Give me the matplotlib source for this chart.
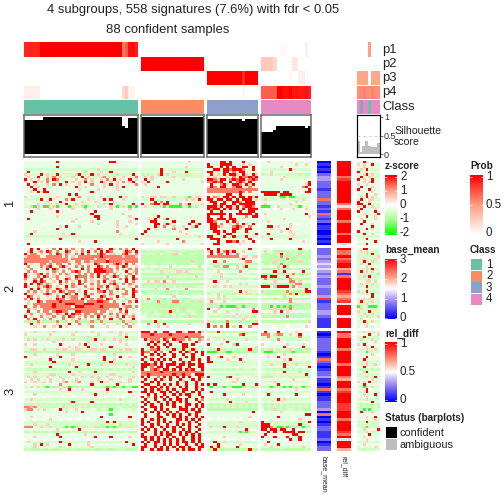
import matplotlib
matplotlib.use('Agg')
import matplotlib.pyplot as plt
import numpy as np
from matplotlib.colors import LinearSegmentedColormap, ListedColormap

plt.rcParams['font.family'] = ['Liberation Sans', 'DejaVu Sans']

W = 504.0
fig = plt.figure(figsize=(7, 7), dpi=72)

# values
col_sizes = [36, 20, 16, 16]
col_x = [(24, 138), (141, 204), (207, 258), (261, 311)]
side_x = (357, 380)
row_y = [(161, 245), (248, 328), (331, 451)]

p1 = [.88]*5 + [1]*26 + [.6, .7, .95, .95, .9] + [0]*20 + [0]*16 + [0, 0, 0, 0, 0, 0, .03, .03, 0, 0, 0, 0, 0, 0, .08, 0]
p2 = [0]*36 + [1]*20 + [0]*16 + [.27, .27, .27, .27, .2, 0, 0, 0, 0, 0, .12, .12, 0, 0, 0, 0]
p3 = [0]*36 + [0]*20 + [1]*11 + [.85] + [1]*4 + [0, 0, 0, 0, 0, 0, 0, 0, 0, .03, 0, 0, .08, .08, .02, .03]
p4 = [.08]*5 + [0]*26 + [.2, .27, .06, .06, 0] + [0]*20 + [0]*11 + [.05] + [0]*4 + [.7, .7, .7, .7, .7, 1, 1, .95, .95, 1, .92, .95, .92, .92, .95, .9]
side_p1 = [0, 0, 0, 0, .5, 0, 0, 0]
side_p2 = [0, 0, 0, 0, 0, 0, 0, 0]
side_p3 = [.45, .45, .45, .45, 0, .45, .45, .45]
side_p4 = [.55, .55, .58, .55, .55, .58, .55, .55]
side_class = [4, 3, 4, 4, 1, 4, 4, 4]

sil_1 = [.92]*6 + [.99]*25 + [.76, .70, .96, .96, .97]
sil_2 = [.99]*20
sil_3 = [.95]*11 + [.90] + [.95]*4
sil_4 = [.59]*4 + [.65] + [.76]*9 + [.70, .76]
sil_side = [.35, .05, .22, .35, .22, .2, .18, .3]

heat_1 = [
"..........R................RR....... ...............p.... ....RR.R...R.... ..p.............R. ..R.....",
"..................................... .................... R...RRRR...p.p.. ...........p..p... p.p..R..",
"..........R......................... ..............p..... RR..R.R.R..RR.R. ......p......... ..p.....",
"-----------------------p------------ ------R------------- ..RR.RRsRRRs..R. ---------R------ -p-R----",
".R.................p....p..R........ ......R...p...R..... RR.p.RR.s.RR.... ...p............ R..p....",
"p----R-p--R-----pR---R-p-----p----R- =-=--pR-p-----==---- -R-p-R-RRp-Rp-Rp =--p----=---=-== --pR-p--",
"-p..R-.p-s-p---p-.R.p---ps--p-.p.-.s -p-p------p--------- p-p--.p-s-RssRsR .......p-------- -R-.p---",
"R.p.p.-s.Rs.-...p..s.p..p.s.R.p..R.p .R.p.........p...... RRspRR.sRsRRpsRs ......p......... R.p..R..",
"p..R.p.s..p..R.p.p.R.p..Rp.p.p.s.pR. p.R.....R.......... ssRsR..R.sRs.R.. ...............R ..p.pR..",
".R.p...p.s.R.p...p...s...p.R.p.....s .p................. .R..sRp.RRs.RpR. ..............pR p..p....",
"..R.p...........R..p.....p...p.R.... .....R............. pRs.RR..sRR..s.. .............sR. .R...p..",
"...R..R..........p.....p.....p...... .................... ssssssssssssssss ...............R R...R...",
"..p.R.RR.............R.............. .................... ssssssssssRs.s.. RRRRRR.RR.....RR .....p..",
"..............R.R................... .................... ......RR..R..... .RRRR.RRRR...... ...R..p.",
"p.-..-..-.p-..-.ps..--..p.-...R.p.-. p.-pp.pp--p----G-pp- R.sp.RRpR.RR.Rp ----.-GG.GG----. .p.R-p-.",
"-----R..R-...s-R-...p-...R.R...p-.-- ---R----------p-p-R- RR.RR.RR.R.RRR.p -p---.--.----p-. -R-.pp--",
".......p...R......p...p.....p....... ....R.s.R........... .RR..R..RRs.RRR. ...........p.... R...p...",
"-...p.-.p.p-.R..p.---...-p.R.---..R- R--sRR-RR---s.pR--.p ..R.RR..R.RRRRR. .p.......p...... RR..R-.-",
"--pGp-sG-pG-..G---pG--.p--.p-G-p-G.G -p----pG-GGGG--G-p-- RRRpR.RRpR.sRRs. GGG-.p--.-.-G.-. p-R.-p--",
"..o.p.o.p.oo...p.o.p...o.o.p..o.op.. ......o...o.o....... RsRR.RpRpR.R.RRR ....o.poo.p..op. .R.o..po",
"..R.......R...........R............. .................... .R..R.....R..RR. ................ R.....R.",
".....................R.........p.... .................... RRRRRR.R.RRRRR.R .p............R. ..p....R",
"..........p...........RR.........p.. .....R.............. R...R..R....s.RR ...............p ...R..p.",
".R..............p......R...........R ..p.R..pR........... RR.RRR.RR..p.... .......p........ .p....p.",
"...............p.....p.......p...p.. ...RR.....R.....R... RRs...R.Rp...... ..p............. ..R.....",
"...o..o.....o..o...o...p.o...p..o..p ..o.RR.pRp.o..oR.pR. .RR.s..p.s.Rp.R. ..o..o...p.o..o. oR.o.po.",
"...........p.R...p...........p..p... ....Rp.s..p..p..pR.. .RRsp...sRsp.s.. ..RR.p...p...... .....R..",
"..........R......................... ..R.p.....s...R..... .RR.....RRp.RR.. ...p....R....... ...R.p..",
"...p.........................s...... .R..........p....... ..RR.R..R...R... ......p..p...... R.......",
"..R.........p..R..............p..... R.............p..... ...R..RR.......R ..R.......p..... ..R..p..",
"------------------------------------ ------------------p- RR---R--R---R--- ---------------- --------",
"-..........R.......................R ...........R........ .RRR.........R.. ...R.....R...... ...R....",
".................p....R.............. .....p.......s...... ...R..RRsR.p..R. .............p.. ......R.",
".R.................................. p.......p.......... ..RR......p..... ................ ...R....",
]
heat_2 = [
"..R.R..p.s.R.s.s..s..p.Rs..Rp.s.s.R. .................... R..R.........R.. ............R... ..RR....",
".pR.ps.Rs.s..Rs.p.s.R.s.R.Rs...pRs.R ==-=-===-=-=-======= pR.R.sRpR..p.... -p-.=p=-=-=-==-= -p-p----",
"R.ss.p..s.Rs.sp.s.R.s..sRs.pp..sRp.s --=-==.=-=pp-===-==- .R.ss.Rp.s..... -==-=-R-==-=p-== ---p-R--",
"pssss..sssss.s.p.sssssssRsssssspsssp ==================== ssssssssss.pp.pp ======s=p======= -------p",
"ssssssssssssss.sssssss.ssspsssssssss ==================== ..........pR.... -=======s===-=== --p---p-",
"sssssssspsssssp.ss.sspssssRsssspssss ==-=====-=======p=== ..R..s......ss.. ====p===-===p==- --R--p--",
"R.p..ss.s.ss..s.ps..p.Rs...psRs.R.s. -==-==-=-=-=====-=== .=-==-====-=p=== -==-==s===-=-=== -p--R---",
".s...s.sR..sRp..s.s.s..Rs.s..s.Rs..p o.-.o-..op.-o..o..p. ..pp.ss..p.pR.. ...o.p.Rp...o..o -o.p-.o.",
"p.s..p.R.Rs.p.s...R.s.RRRsss.s.p.s.s =-=-==-=-==-======== ==.=-===-=---== =====p====-===== ---p-R--",
".s.s...p.sp.s..sRs..s.RRRRss.p..R.ps --.---p----pp-p----- ...p......s..... ....R..R.....R.. -R-p-p--",
"R..psR.s.p.s.sp..s.s.s.Rp.s.s.p..s.s ====-===-====-====== -.-=p--==-.---= ==========s===== -------p",
"Rp..s.Rs.ps..pp.Rsss.s.R.s.pRs..s.R. --------p--------p-- ..-.p.....-..... RR-RR...R....... --p-R---",
"s..s.R..p.s..Rs.sp.s.p...ss...s.R.Rs ==================== -=--=-==-=-==-== =s=======s====== ----p---",
"p..RpRs..p.R.s.p.R.s.p.s.R.ps...R.s. ..p.pp.s..p........ ..R...p.........  ....p....ss.p... ...pp.p.",
"R.R.Rs.sp..s.p.s.Rs..s.s.p.sRp.s.sp. =========-========== ..........p.p... ===========ss=== -p---p--",
"Rp..s.sRs.p..R.sp..s.p.ss.R.ps...p.s ==-=-=-=-=-=-=-==--- --p-.p-p-------- RRR.pRRRR=s.p==== ---R----",
"..R.R..sp.Rs.s...p..ps.R..s.pR.s..R. ....p...s.....s..... ................ ..............R. ...p....",
".s.s.p.s.s.Rs.ss.p.R...ssR.s.p..s.Rs ==-=-=-====-==-===== ----------R-p--- p=======s=====RR p--R----",
"R.pp..sRs.p..Rs.R..R.s.p.p.sp..ss.R. -=--=-=-=p--p=-=-=-= =--p--=-=-=-p=-= =========s=R==== ---p-R--",
".Rs.p..p..s.R.pss..sR...Rs.p.R.p..R. .o..o..o.op.o....o. ...p.p.......o.. .o...o.p.o..o.o. .o.o.R..",
"s.R.s...p.Rss.pss.Rp.s.ss.Rs.p..p..s --s-=-=p-=-=-===---- ==-=-==-====-=== ====p====s====== --p-p---",
".p..Rs.ssssRsssssss.sssRRss.s..p.s.R =-=-=s==-=ss==-===p= .s...p.......... .........s...... -R---p--",
".p.ssssssRsssRRRsssRRRssssssss.R.p.. ==================== ===-===-======== =============== ---p----",
"R..s.ssssRsssss.RRRsssssRsssss.pss.s ==================== ==-=G=GGG==G==== ===s=G=G=G===== G---GGG-",
".s.p..sssssssssssssssssssss.p.R.s.p =-=-==-=-==-=p=-==== R..p.....p....s. ====p====s====== -p------",
".R..s.ss.sRRss..RRsssss.ss.p..s.R... ==-=-====R=-===--=== ..p...p.......RR ....p.R.p...... p---R---",
"p.s..p.ss.sp.R.Rss.ss.sss..s.s.ps.p. -.==.--=-=.=-.==.-=- ---------p------ =-=-=-=-=-=-==== --p--p--",
"R.p..s.p.s..s.Rs.p.s.s.R.s.p.s.R.ps. ..=-=-==-=-=-==p==-= -=-=-==-=-=-=-= ========s======= ---p---p",
".s.R..p.s...s..p.s.p...s.p.R..s...R. ....o..o.o...o...... ...o..o....p.... ..o..o..o....o.. .p.o..o.",
"=p==s===p=s==p.=sp===s==s==p===s=p== ====R==============p p=====s===p==== ===============p --R--p--",
"..R.p.....p...R..s..p....p...p..s.p. ..s..p.R.......p.... R.....R.......R ................ ...p.o..",
"...p..s..p.R.p.......s....p..o.p.s.. .o...p..po....o..o.. R.s.s.R.p.R..s.. ....o...o....op. -o-p.-o-",
]
heat_3 = [
"-.-p--.--p--.---p---.p---.-p--p----- RRR.R..RR..RRp.RR.Rp ===R======-==-== .R...R.....p.... --p-----",
"p.......p......p.......p......p.p... sssRsssssRsssssssss. ..........sR.... sss.pss..p..R... ....R..p",
"--------------------p-----------R--- ssssssssssssssRsssss ---------------- --s---------s--- --R-----",
"-p-p---p----p--p------R--p--p-p-p--- .Rpsss.Rs.Rsss.s..sp p.---p----.-p--- -.---s--------- -p---p--",
"o...o..o.p..o..o..o.p..o..o..op..o.. .o.R.R..R...R....Rp. o..o..R...o..o.  o.o..o.o...o.o.. .o..o.po",
"p..p.......R.....p.R....p.......p... ..R.Rp.R.R...RR.R... R...p...pR...... p.......p....p.. p.R.....",
"..............p.p...R......R........ ...R.R..R....RR..... ...............p .......R.....R.. ...p.R..",
"--pp--p---p-pp--pp---pp-pp----p-pp-- R.=ssR=.==R==R==R=.= =-=R==-=-==-=R== =-=p-=--=p-==-== ---p--p-",
"==================================== Rss.R.s..R..R.Rs.R.R GGG===GG======== =GGG======G===== ---G----",
"o..p..o.o.p.o..p.o..oo...o..p..o.o.o R..R.R.R..R..R..R..R o.o..o.o..o..o.. o..o.o.p..o.o.o. o..o.p.o",
"R.......p..R.............R....R..p.. .R.p..R...R...R.R... R..pR...p....... ..p..R.......... ...R....",
"........R......p.........R..p....... R..R.R.R.R..R...R.R. R.....p...R..... .......p.R...... ..R.....",
"---------R-----------------R------- .R..R.R...R..R.R..R. RR---------p---- --------------- ---p----",
"--p-----------p-----R---p-------p--- RRRsR.R.RRR.RR.RR.RR ..-.-..---.-.-.- ---p---R---p---- ---p--p-",
"........R.......R.................p. RR.s.RR.R..RR..R..RR ................ .......R.......R ..R.....",
"-=-=-=-=-=-=-=--=-=-=-=-=--=-=-=-=-- R..sRs.RR.R.R.RsR..R --=-=-=-=-=---=- --=-=-=-=-=-=--- -=-=-=-=",
"...p..........R..p....R...........p. ssssssRsssssssssssss ................ .......R....p... ..pR....",
"--------pp-----p-----------pp------- ssRsssssssRssRss.RRR. ---------=------ --=-----------R- --------",
"-p-p--.p.-.p---.-.p-.p-p-.p.-.p-.-p- R.R..s.R.R.R.R.R..Rs R.....sR.......= ===p-----=-=-=== ---p--R-",
"..p.p...p...p...p......p...p.....p.. .R..R.Rp.R..Rp..R.R. .........p...... ..........p..... .....p..",
"p.-p.-p.p.-.ps.-ps.-.p.-R-p.--p.-p.- R..R.R...p.R.pR..Rp. o..-.-.-p-.-.-.. .---p-.-.---.--. p.p.R.-.",
"...........s.........R.......R...... .RR..R.R.R.R..R..R.R R.R........R...  .....R.......... ..R.....",
"--p-p-=G=p=-=pG=p-=-=-=-==G=G==G==GG R..RR.R.R.p.R.R..Rp. =G-=-G==GGG==-== =-=G=-=G=G=p=G== --G--p--",
"...........p..R...p.......R......... .R.R.Rs.R.R..RR..R.R ................ ...........p.... ...R.o..",
"--------------------------p------R-- RR.R..RR.R.R.R..R.R. -R-------------- ---------------- ---R----",
"...p..................R............. ..R.R..R..R.R.RR..R. .....R.....p.... ..R........R.... ..p...R.",
"o..o..o.o...o..o..o.o..o.o...o.o...o R.s.R.R.R..R...R...R o..o.o..o..o.o.. o..o.o..o.o..o.. o..p.o..",
"--p---------------------------p----- .R..R..R.R.RR.R..R.s ------p--------- -----R-p-------- ---p----",
"...............R.....R.............. R.R..R..R.R.R.R...R. .......R....p.... ................ .....R..",
"=-=-=-=-=-=-=-=-=-=-=-=-=-=-=-=-=-=- .R.R..R.R.R...RR.R.R -=-=-=-=-=-=-=-= -=-=-=-=-=-=-=-= -=-=-=-=",
"ssps.=-=-=--p=-=--=-=-=-=-=-=--=-=-= R..RR.R...R.R.R..R.R -=-=-=-=-=-=-=-= -=-=-=-=-=-=-=-= -=-=-=-=",
"pss.=.p-...R.=..p...-..=-.-G.=..-.=. .R..R.R.R...RRR.R.R. ================ .=-=p=-=---=-=== --G-G---",
".............p....R.................. R..R.R.R.R.R..R..RR. ..............R. ......p......... .R...p..",
"...........................G......... .R...R..R.R.R..R.R.. ................ ..............RR ........",
"..p.....................R........R.... .R...RR...R.R.R..R.R .............p.. .....R.......... ...p..R.",
"o..o..o.p..o..o..o..o.o...o...o.o.o. R..R.R.R...RR.R.R.R. o..o.o..o.o..o.o .o...o.o..o.p.o. .o.o..p.",
"--------------------------R-R------- R.R..R.R.R.R...R.R.. ----------p------ R-------------- ---R----",
"---p---p----------------------p----- R..R.R..R..R.R.R..R. ---------------- RRR.--.-----R--- --------",
"sss.-p--p---=G=G==-=--p=-=G=G==--=-- .R.R..R.R.R.R..R.R.. -p---R---p------ RRRs=GG=G==p=G== ---G----",
"..........p......R.................. R.R.R..R..R..R.R..R. ............R... RR.RR.RR..R..... ..p....R",
"==-==-==-==-===-=-==-==-==-==-==-=== .R..R.R.R.R.R.RR.R.. ----------G-G---- ..R.R..RRRR=RR== ---p----",
"..........R........p.............. R...R.R.RR..R.R.R.R. ................ .R........RR.... ....R...",
"...p.......R..........R....R.....p.. RR.R.R..R.R..R..R.R. .....p.......... R...R...R...R... ..p.....",
"o..o..o..o.o..o.o...o.o..o.o..o.o..o .R.R.R.R.R.R.R..R.R. o..o..o.o..o..o. .o..o..o.R..R..o. o..p.o..",
"-p---------R--------p-----------R--- R.R.RR.R.R.R.RR.R.R. --R--p----------- ..R.............. ---p----",
"...p.R.p......R.....p.............R. .R..R..R.R.R..R..R.R ...R......p...... .p...R.......... ..p.....",
"-.-p-.-.-.-p-.-.-.-.-p-.-.-.-.-.-.-- RR..R.R.R.R.RR.R..RR .R.R.....R...... -.-p-.-.-.-.-p-. -.-.-.p-",
"=-===-==-===-==-==-==-===-===-=-==== R..R.RR.R..R.R.RR.R. -=R===-===-==R== ======-=======- --=-----",
]

# one digit per row, 0 = 0 ... 9 = 3
base_mean_1 = "0101023322212227221217212011001010"
base_mean_2 = "22232343432322232223812223321111"
base_mean_3 = "101222221017210122311017101122230701012211120122"
# one digit per row, 0 = 0 ... 9 = 1
rel_diff_1 = "9999997899999999974799997999979994"
rel_diff_2 = "97797899671799999876785999949999"
rel_diff_3 = "977999979999979999769997899998889997999987959996"

z_codes = {'.': -0.25, '-': -0.45, '=': -0.7, 'G': -1.7, 'o': 0.0, 'p': 0.5, 's': 1.2, 'R': 2.0}


def parse_rows(rows):
    out = []
    for r in rows:
        parts = r.split()
        cells = []
        for part, n in zip(parts, col_sizes + [8]):
            part = part.ljust(n, part[0])[:n]
            cells += [z_codes[c] for c in part]
        out.append(cells)
    return np.array(out)


def px_axes(x0, y0, x1, y1):
    ax = fig.add_axes([x0/W, 1-y1/W, (x1-x0)/W, (y1-y0)/W])
    ax.set_xticks([])
    ax.set_yticks([])
    for s in ax.spines.values():
        s.set_visible(False)
    return ax


def txt(x, y, s, **kw):
    kw.setdefault('ha', 'left')
    kw.setdefault('va', 'center')
    kw.setdefault('color', '#222222')
    fig.text(x/W, 1-y/W, s, **kw)


z_cmap = LinearSegmentedColormap.from_list('z', [(0, '#00ff00'), (.25, '#a6ff8f'), (.5, '#ffffff'), (.75, '#ff9e81'), (1, '#ff0000')])
base_cmap = LinearSegmentedColormap.from_list('b', [(0, '#0000ff'), (.33, '#b09cf0'), (.5, '#ffffff'), (.67, '#ffa98f'), (1, '#ff0000')])
prob_cmap = LinearSegmentedColormap.from_list('p', [(0, '#ffffff'), (.5, '#ff9e81'), (1, '#ff0000')])
class_cols = ['#66C2A5', '#FC8D62', '#8DA0CB', '#E78AC3']
class_cmap = ListedColormap(class_cols)

# top annotation strips
strip_y = [(42, 57), (57, 71), (71, 85.5), (85.5, 99)]
probs = [np.array(p1), np.array(p2), np.array(p3), np.array(p4)]
side_probs = [side_p1, side_p2, side_p3, side_p4]
names = ['p1', 'p2', 'p3', 'p4']
for k in range(4):
    start = 0
    for (x0, x1), n in zip(col_x, col_sizes):
        ax = px_axes(x0, strip_y[k][0], x1, strip_y[k][1])
        ax.imshow(probs[k][start:start+n].reshape(1, -1), cmap=prob_cmap, vmin=0, vmax=1, aspect='auto', interpolation='nearest')
        start += n
    ax = px_axes(side_x[0], strip_y[k][0], side_x[1], strip_y[k][1])
    ax.imshow(np.array(side_probs[k]).reshape(1, -1), cmap=prob_cmap, vmin=0, vmax=1, aspect='auto', interpolation='nearest')
    txt(382, (strip_y[k][0]+strip_y[k][1])/2, names[k], fontsize=13)

# class strip
for c, ((x0, x1), n) in enumerate(zip(col_x, col_sizes)):
    ax = px_axes(x0, 100, x1, 114)
    ax.imshow(np.full((1, n), c), cmap=class_cmap, vmin=0, vmax=3, aspect='auto', interpolation='nearest')
ax = px_axes(side_x[0], 100, side_x[1], 114)
ax.imshow(np.array(side_class).reshape(1, -1)-1, cmap=class_cmap, vmin=0, vmax=3, aspect='auto', interpolation='nearest')
txt(382, 107.5, 'Class', fontsize=13)

# silhouette bars
for (x0, x1), vals in zip(col_x, [sil_1, sil_2, sil_3, sil_4]):
    ax = px_axes(x0, 115, x1, 157)
    ax.bar(np.arange(len(vals)), vals, width=1.1, color='black', linewidth=0, antialiased=False)
    ax.set_xlim(-.5, len(vals)-.5)
    ax.set_ylim(-3/37, 1+2/37)
    for s in ax.spines.values():
        s.set_visible(True)
        s.set_color('#666666')
        s.set_linewidth(1.5)

ax = px_axes(356.5, 115, 380, 157)
ax.bar(np.arange(8), sil_side, width=1.05, color='#bebebe', linewidth=0, antialiased=False)
ax.axhline(.5, color='#cccccc', lw=.8, ls=(0, (4, 3)))
ax.set_xlim(-.5, 7.5)
ax.set_ylim(-3/37, 1+2/37)
for s in ax.spines.values():
    s.set_visible(True)
    s.set_linewidth(1.2)
ax.yaxis.tick_right()
ax.set_yticks([0, .5, 1])
ax.set_yticklabels(['0', '0.5', '1'], fontsize=9, color='#333333')
ax.tick_params(axis='y', length=2.5, width=.7, pad=1.5, color='#444444')
txt(394, 131, 'Silhouette', fontsize=10.5)
txt(394, 142, 'score', fontsize=10.5)

# main heatmap
heats = [parse_rows(heat_1), parse_rows(heat_2), parse_rows(heat_3)]
for g, h in enumerate(heats):
    y0, y1 = row_y[g]
    start = 0
    for (x0, x1), n in zip(col_x, col_sizes):
        ax = px_axes(x0, y0, x1, y1)
        ax.imshow(h[:, start:start+n], cmap=z_cmap, vmin=-2, vmax=2, aspect='auto', interpolation='nearest')
        start += n
    ax = px_axes(side_x[0], y0, side_x[1], y1)
    ax.imshow(h[:, start:], cmap=z_cmap, vmin=-2, vmax=2, aspect='auto', interpolation='nearest')

    bm = np.array([int(c)/3 for c in [base_mean_1, base_mean_2, base_mean_3][g]]).reshape(-1, 1)
    ax = px_axes(317, y0, 331, y1)
    ax.imshow(bm, cmap=base_cmap, vmin=0, vmax=3, aspect='auto', interpolation='nearest')

    rd = np.array([int(c)/9 for c in [rel_diff_1, rel_diff_2, rel_diff_3][g]]).reshape(-1, 1)
    ax = px_axes(337, y0, 351, y1)
    ax.imshow(rd, cmap=base_cmap, vmin=0, vmax=1, aspect='auto', interpolation='nearest')

    txt(10, (y0+y1)/2, str(g+1), fontsize=13, rotation=90, ha='center')

txt(324, 456, 'base_mean', fontsize=7, rotation=270, ha='center', va='top')
txt(344, 456, 'rel_diff', fontsize=7, rotation=270, ha='center', va='top')

# titles
txt(193, 10, '4 subgroups, 558 signatures (7.6%) with fdr < 0.05', fontsize=13, ha='center')
txt(168, 30, '88 confident samples', fontsize=13, ha='center')


# legends
def colorbar(x0, y0, x1, y1, cmap, vmin, vmax, ticks, labels):
    ax = px_axes(x0, y0, x1, y1)
    grad = np.linspace(vmax, vmin, 60).reshape(-1, 1)
    ax.imshow(grad, cmap=cmap, vmin=vmin, vmax=vmax, aspect='auto', extent=[0, 1, vmin, vmax])
    for t in ticks:
        ax.plot([0, .18], [t, t], color='white', lw=.6)
        ax.plot([.82, 1], [t, t], color='white', lw=.6)
    ax.set_xlim(0, 1)
    ax.set_ylim(vmin, vmax)
    for t, l in zip(ticks, labels):
        frac = (t-vmin)/(vmax-vmin)
        txt(x1+3, y1-frac*(y1-y0), l, fontsize=11.5)


txt(385, 166, 'z-score', fontsize=10, fontweight='bold')
colorbar(385, 175, 397, 235, z_cmap, -2.15, 2.15, [2, 1, 0, -1, -2], ['2', '1', '0', '-1', '-2'])
txt(385, 250, 'base_mean', fontsize=10, fontweight='bold')
colorbar(385, 259, 397, 319, base_cmap, -.05, 3.05, [3, 2, 1, 0], ['3', '2', '1', '0'])
txt(385, 334, 'rel_diff', fontsize=10, fontweight='bold')
colorbar(385, 342, 397, 402, base_cmap, -.03, 1.03, [1, .5, 0], ['1', '0.5', '0'])
txt(470, 166, 'Prob', fontsize=10, fontweight='bold')
colorbar(470, 175, 483, 235, prob_cmap, -.03, 1.03, [1, .5, 0], ['1', '0.5', '0'])

txt(470, 250, 'Class', fontsize=10, fontweight='bold')
cls_y = [259, 270.5, 282, 293.5, 305]
for i in range(4):
    ax = px_axes(471, cls_y[i], 482, cls_y[i+1]-.5)
    ax.set_facecolor(class_cols[i])
    txt(486, (cls_y[i]+cls_y[i+1])/2, str(i+1), fontsize=11.5)

txt(385, 418, 'Status (barplots)', fontsize=10, fontweight='bold')
ax = px_axes(385.5, 427, 396.5, 438)
ax.set_facecolor('black')
ax = px_axes(385.5, 439, 396.5, 450)
ax.set_facecolor('#bebebe')
txt(400, 433, 'confident', fontsize=11)
txt(400, 445, 'ambiguous', fontsize=11)

fig.savefig('out.png', dpi=72)
